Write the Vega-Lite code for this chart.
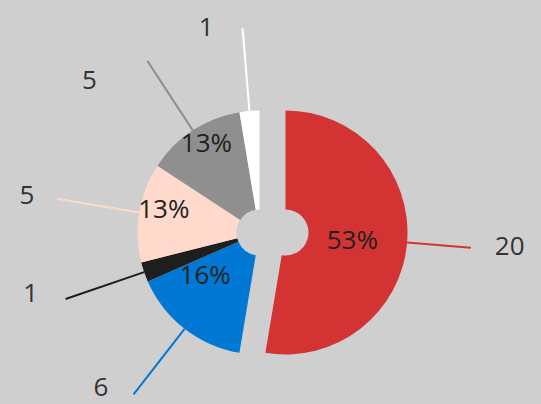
{
  "$schema": "https://vega.github.io/schema/vega-lite/v6.json",
  "width": 537,
  "height": 343,
  "autosize": {"type": "none"},
  "padding": {"left": 4, "right": 0, "top": 61, "bottom": 0},
  "background": "#cfcfcf",
  "view": {"stroke": null},
  "config": {"text": {"font": "Open Sans"}},
  "data": {
    "values": [
      {"k": 1, "cat": "A", "value": 20, "pct": "53%"},
      {"k": 2, "cat": "B", "value": 6, "pct": "16%"},
      {"k": 3, "cat": "C", "value": 1, "pct": ""},
      {"k": 4, "cat": "D", "value": 5, "pct": "13%"},
      {"k": 5, "cat": "E", "value": 5, "pct": "13%"},
      {"k": 6, "cat": "F", "value": 1, "pct": ""}
    ]
  },
  "encoding": {
    "theta": {"field": "value", "type": "quantitative", "stack": true},
    "order": {"field": "k", "type": "quantitative"},
    "color": {
      "field": "cat",
      "type": "nominal",
      "scale": {
        "domain": ["A", "B", "C", "D", "E", "F"],
        "range": ["#d33333", "#0078d4", "#1e1e1e", "#ffdacc", "#8f8f8f", "#ffffff"]
      },
      "legend": null
    }
  },
  "layer": [
    {
      "mark": {"type": "arc", "filled": false, "strokeWidth": 2, "innerRadius": 122, "outerRadius": 186, "xOffset": 13},
      "encoding": {
        "theta": {"datum": 10, "type": "quantitative"},
        "theta2": {"datum": 10},
        "strokeOpacity": {"condition": {"test": "datum.k == 1", "value": 1}, "value": 0}
      }
    },
    {
      "mark": {"type": "arc", "filled": false, "strokeWidth": 2, "padAngle": 3.1416, "innerRadius": 122, "outerRadius": 205, "xOffset": -13},
      "encoding": {"strokeOpacity": {"condition": {"test": "datum.k != 1", "value": 1}, "value": 0}}
    },
    {
      "mark": {"type": "arc", "innerRadius": 23, "outerRadius": 122, "xOffset": 13},
      "encoding": {"fillOpacity": {"condition": {"test": "datum.k == 1", "value": 1}, "value": 0}}
    },
    {
      "mark": {"type": "arc", "innerRadius": 23, "outerRadius": 122, "xOffset": -13},
      "encoding": {"fillOpacity": {"condition": {"test": "datum.k != 1", "value": 1}, "value": 0}}
    },
    {
      "mark": {"type": "text", "radius": 67, "dx": 13, "dy": 3, "fontSize": 26},
      "encoding": {"text": {"field": "pct"}, "color": {"value": "#222222"}, "opacity": {"condition": {"test": "datum.k == 1", "value": 1}, "value": 0}}
    },
    {
      "mark": {"type": "text", "radius": 69, "dx": -25, "dy": -11, "fontSize": 26},
      "encoding": {"text": {"field": "pct"}, "color": {"value": "#222222"}, "opacity": {"condition": {"test": "datum.k == 2", "value": 1}, "value": 0}}
    },
    {
      "mark": {"type": "text", "radius": 97, "dx": -13, "dy": -7, "fontSize": 26},
      "encoding": {"text": {"field": "pct"}, "color": {"value": "#222222"}, "opacity": {"condition": {"test": "datum.k == 4 || datum.k == 5", "value": 1}, "value": 0}}
    },
    {
      "mark": {"type": "text", "radius": 210, "align": "left", "dx": 13, "dy": -3, "fontSize": 26},
      "encoding": {"text": {"field": "value"}, "color": {"value": "#333333"}, "opacity": {"condition": {"test": "datum.k == 1", "value": 1}, "value": 0}}
    },
    {
      "mark": {"type": "text", "radius": 215, "align": "right", "dx": -32, "dy": -14, "fontSize": 26},
      "encoding": {"text": {"field": "value"}, "color": {"value": "#333333"}, "opacity": {"condition": {"test": "datum.k == 2", "value": 1}, "value": 0}}
    },
    {
      "mark": {"type": "text", "radius": 215, "align": "right", "dx": -31, "dy": -8, "fontSize": 26},
      "encoding": {"text": {"field": "value"}, "color": {"value": "#333333"}, "opacity": {"condition": {"test": "datum.k == 3", "value": 1}, "value": 0}}
    },
    {
      "mark": {"type": "text", "radius": 215, "align": "right", "dx": -26, "dy": -1, "fontSize": 26},
      "encoding": {"text": {"field": "value"}, "color": {"value": "#333333"}, "opacity": {"condition": {"test": "datum.k == 4", "value": 1}, "value": 0}}
    },
    {
      "mark": {"type": "text", "radius": 215, "align": "right", "dx": -58, "dy": 28, "fontSize": 26},
      "encoding": {"text": {"field": "value"}, "color": {"value": "#333333"}, "opacity": {"condition": {"test": "datum.k == 5", "value": 1}, "value": 0}}
    },
    {
      "mark": {"type": "text", "radius": 215, "align": "right", "dx": -41, "dy": 10, "fontSize": 26},
      "encoding": {"text": {"field": "value"}, "color": {"value": "#333333"}, "opacity": {"condition": {"test": "datum.k == 6", "value": 1}, "value": 0}}
    }
  ]
}
